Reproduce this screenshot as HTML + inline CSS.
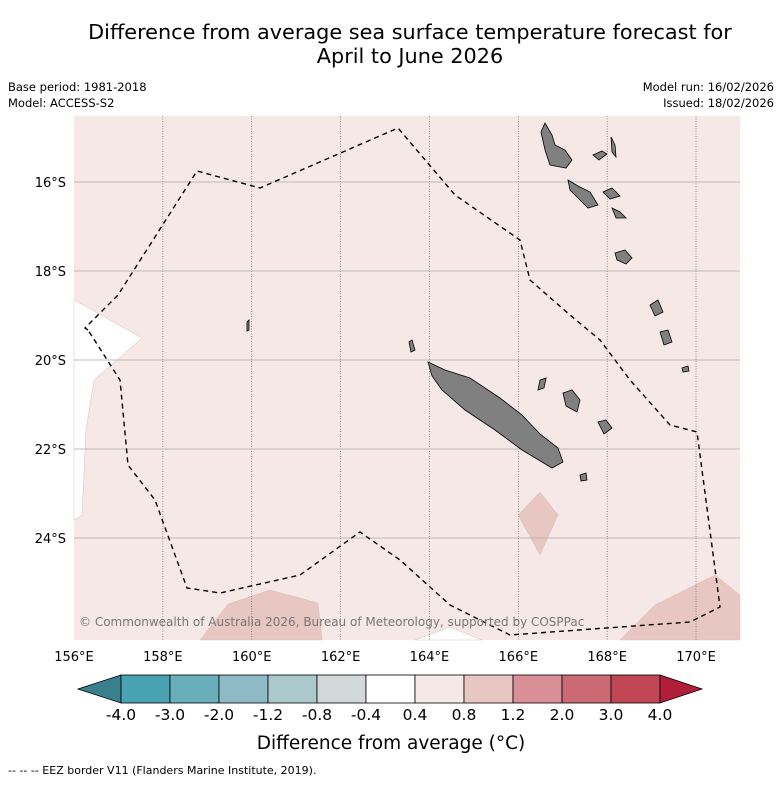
<!DOCTYPE html>
<html><head><meta charset="utf-8"><style>
body{margin:0;background:#fff;width:781px;height:781px;overflow:hidden;font-family:"Liberation Sans","DejaVu Sans",sans-serif}
</style></head><body>
<svg width="781" height="781" xmlns="http://www.w3.org/2000/svg" font-family="'DejaVu Sans','Liberation Sans',sans-serif">
<text x="410" y="39" text-anchor="middle" font-size="20.8">Difference from average sea surface temperature forecast for</text>
<text x="410" y="63" text-anchor="middle" font-size="20.8">April to June 2026</text>
<text x="8" y="91" font-size="11.5">Base period: 1981-2018</text>
<text x="8" y="107" font-size="11.5">Model: ACCESS-S2</text>
<text x="774" y="91" font-size="11.5" text-anchor="end">Model run: 16/02/2026</text>
<text x="774" y="107" font-size="11.5" text-anchor="end">Issued: 18/02/2026</text>
<g id="map"></g>
<g id="cbar"></g>
<text x="391" y="749" text-anchor="middle" font-size="18.5">Difference from average (°C)</text>
<text x="8" y="774" font-size="11">--  --  -- EEZ border V11 (Flanders Marine Institute, 2019).</text>
</svg>
<script>
const lonTicks=[156,158,160,162,164,166,168,170];
const latTicks=[16,18,20,22,24];
const cbLabels=["-4.0","-3.0","-2.0","-1.2","-0.8","-0.4","0.4","0.8","1.2","2.0","3.0","4.0"];
const cbColors=["#48a2b2","#6aaebb","#8dbac5","#abc9cd","#d3d8d8","#ffffff","#f5e8e6","#e8c6c1","#d98f96","#cc6a74","#c04555"];
const NS="http://www.w3.org/2000/svg";
const X0=74,X1=740,Y0=116,Y1=640;
function lonX(l){return 74+(l-156)*44.43;}
function latY(l){return 182+(l-16)*44.5;}
function mk(t,a,p){const e=document.createElementNS(NS,t);for(const k in a)e.setAttribute(k,a[k]);p.appendChild(e);return e;}
const map=document.getElementById('map');
let e=mk('rect',{x:X0,y:Y0,width:X1-X0,height:Y1-Y0,fill:'#f5e8e6'},map);


const patches=[
 ['#ffffff','74,300 142,338 94,380 86,430 82,515 74,520','cool-anomaly-patch-west'],
 ['#ffffff','415,640 450,627 482,640','cool-anomaly-patch-south'],
 ['#e8c6c1','200,640 228,604 270,590 318,603 322,640','warm-patch-southwest'],
 ['#e8c6c1','518,515 540,492 558,515 540,555','warm-patch-center'],
 ['#e8c6c1','620,640 655,605 715,575 740,595 740,640','warm-patch-southeast']];
patches.forEach(p=>{const g=mk('polygon',{points:p[1],fill:p[0],stroke:'#d8c0bc','stroke-width':0.5},map);

});
lonTicks.forEach(l=>{if(l===156)return;const g=mk('line',{x1:lonX(l),x2:lonX(l),y1:Y0,y2:Y1,stroke:'#555','stroke-width':0.6,'stroke-dasharray':'1,1.5'},map);

});
latTicks.forEach(l=>{const g=mk('line',{x1:X0,x2:X1,y1:latY(l),y2:latY(l),stroke:'#aaa','stroke-width':0.8},map);

});
const lands=[
 ['428,362 445,370 470,378 500,398 522,415 540,434 558,448 563,462 552,468 522,450 495,430 465,410 442,390 432,376','new-caledonia'],
 ['545,123 552,135 555,145 565,150 572,160 566,168 550,165 545,150 541,132','espiritu-santo'],
 ['568,180 578,186 590,192 598,205 588,208 578,198 570,190','malakula'],
 ['593,155 602,151 607,154 599,160','island-aoba'],
 ['611,137 615,145 616,157 612,152','island-maewo'],
 ['603,192 612,188 620,196 610,199','island-ambrym'],
 ['612,208 620,212 626,218 616,218','island-epi'],
 ['615,253 625,250 632,258 626,264 617,260','efate'],
 ['650,305 658,300 663,312 655,316','erromango'],
 ['660,332 668,330 672,342 664,345','tanna'],
 ['563,393 572,390 580,400 577,412 566,406','lifou'],
 ['598,422 606,420 612,428 604,434','mare'],
 ['580,475 586,473 587,480 581,481','isle-of-pines'],
 ['540,380 546,378 544,388 538,390','ouvea'],
 ['682,368 688,366 689,371 683,372','matthew-island'],
 ['409,342 412,340 415,350 411,352','belep-islands'],
 ['247,322 249,320 249,330 247,331','chesterfield-islands']];
lands.forEach(p=>{const g=mk('polygon',{points:p[0],fill:'#808080',stroke:'#000','stroke-width':0.8},map);

});
const eez=mk('polyline',{points:'88,330 85,328 118,295 197,171 260,188 398,128 455,195 520,240 530,280 570,315 600,340 630,380 670,425 697,432 720,607 690,622 620,627 510,635 450,605 400,560 360,532 300,575 220,593 187,588 155,500 128,465 120,380 88,330',fill:'none',stroke:'#000','stroke-width':1.4,'stroke-dasharray':'5,4'},map);


const cp=mk('text',{x:79,y:626,'font-size':12,fill:'#777'},map);cp.textContent='© Commonwealth of Australia 2026, Bureau of Meteorology, supported by COSPPac';


lonTicks.forEach(l=>{const t=mk('text',{x:lonX(l),y:661,'font-size':13,'text-anchor':'middle'},map);t.textContent=l+'°E';

});
latTicks.forEach(l=>{const t=mk('text',{x:66,y:latY(l)+5,'font-size':13,'text-anchor':'end'},map);t.textContent=l+'°S';

});
const cb=document.getElementById('cbar');
const bx0=121,bw=49,by=675,bh=28;
let t1=mk('polygon',{points:`78,${by+bh/2} ${bx0},${by} ${bx0},${by+bh}`,fill:'#3a808c',stroke:'#000','stroke-width':0.8},cb);


cbColors.forEach((c,i)=>{const r=mk('rect',{x:bx0+i*bw,y:by,width:bw,height:bh,fill:c,stroke:'#000','stroke-width':0.8},cb);

});
const xe=bx0+cbColors.length*bw;
let t2=mk('polygon',{points:`${xe},${by} ${xe+42},${by+bh/2} ${xe},${by+bh}`,fill:'#b01e3a',stroke:'#000','stroke-width':0.8},cb);


cbLabels.forEach((s,i)=>{const t=mk('text',{x:bx0+i*bw,y:720,'font-size':15.5,'text-anchor':'middle'},cb);t.textContent=s;

});
</script>
</body></html>
